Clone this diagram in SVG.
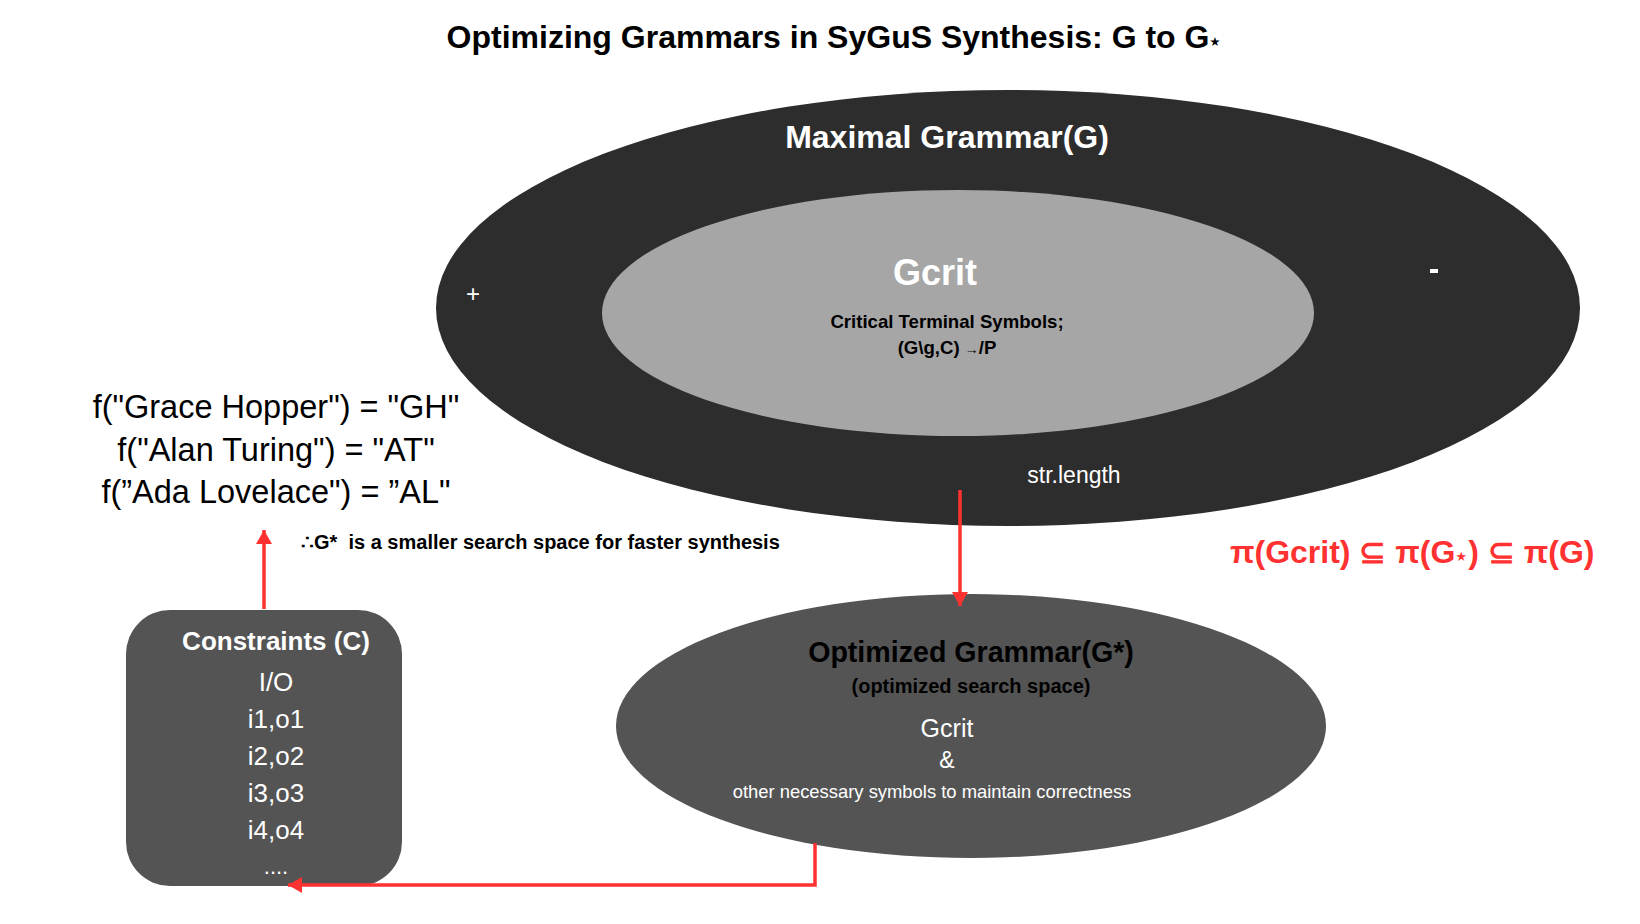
<svg xmlns="http://www.w3.org/2000/svg" width="1640" height="924" viewBox="0 0 1640 924">
<style>
.t{font-family:"Liberation Sans",Arial,sans-serif}
.b{font-weight:bold}
.w{fill:#ffffff}
.k{fill:#000000}
.c{text-anchor:middle}
.red{fill:#ff3131}
.conn{stroke:#ff3131;stroke-width:3.5;fill:none}
</style>
<defs>
<marker id="ah" markerUnits="userSpaceOnUse" markerWidth="18" markerHeight="16" refX="14" refY="8" orient="auto">
<path d="M0,0 L14,8 L0,16 Z" fill="#ff3131"/>
</marker>
</defs>
<rect width="1640" height="924" fill="#ffffff"/>
<text class="t b k c" x="834" y="48" font-size="32">Optimizing Grammars in SyGuS Synthesis: G to G<tspan font-size="19">⋆</tspan></text>

<g id="maximal">
<ellipse cx="1008" cy="308" rx="572" ry="218" fill="#2d2d2d"/>
<text class="t b w c" x="947" y="148" font-size="32">Maximal Grammar(G)</text>
<text class="t w c" x="473" y="302" font-size="24">+</text>
<rect x="1430" y="269" width="8" height="4" fill="#ffffff"/>
<text class="t w c" x="1074" y="483" font-size="23">str.length</text>
</g>

<g id="gcrit">
<ellipse cx="958" cy="313" rx="356" ry="123" fill="#a6a6a6"/>
<text class="t b w c" x="935" y="285" font-size="36">Gcrit</text>
<text class="t b k c" x="947" y="328" font-size="18.6">Critical Terminal Symbols;</text>
<text class="t b k c" x="947" y="354" font-size="18.6">(G\g,C) <tspan font-size="14">→</tspan>/P</text>
</g>

<g id="optimized">
<ellipse cx="971" cy="726" rx="355" ry="132" fill="#545454"/>
<text class="t b k c" x="971" y="662" font-size="28.6">Optimized Grammar(G*)</text>
<text class="t b k c" x="971" y="693" font-size="20">(optimized search space)</text>
<text class="t w c" x="947" y="737" font-size="25">Gcrit</text>
<text class="t w c" x="947" y="768" font-size="23">&amp;</text>
<text class="t w c" x="932" y="798" font-size="18.4">other necessary symbols to maintain correctness</text>
</g>

<g id="constraints">
<rect x="126" y="610" width="276" height="276" rx="44" ry="44" fill="#545454"/>
<text class="t b w c" x="276" y="650" font-size="26">Constraints (C)</text>
<text class="t w c" x="276" y="691" font-size="26">I/O</text>
<text class="t w c" x="276" y="728" font-size="26">i1,o1</text>
<text class="t w c" x="276" y="765" font-size="26">i2,o2</text>
<text class="t w c" x="276" y="802" font-size="26">i3,o3</text>
<text class="t w c" x="276" y="839" font-size="26">i4,o4</text>
<text class="t w c" x="276" y="874" font-size="22">....</text>
</g>

<g id="examples">
<text class="t k c" x="276" y="418" font-size="32.5">f("Grace Hopper") = "GH"</text>
<text class="t k c" x="276" y="461" font-size="32.5">f("Alan Turing") = "AT"</text>
<text class="t k c" x="276" y="503" font-size="32.5">f(”Ada Lovelace") = ”AL"</text>
</g>

<g id="conclusion">
<text class="t b k" x="301" y="549" font-size="20" xml:space="preserve">∴G*  is a smaller search space for faster synthesis</text>
</g>

<g id="relation">
<text class="t b red" x="1230" y="563" font-size="32">π(Gcrit) ⊆ π(G<tspan font-size="20">⋆</tspan>) ⊆ π(G)</text>
</g>

<g id="connectors">
<path class="conn" d="M960,490 L960,606" marker-end="url(#ah)"/>
<path class="conn" d="M264,609 L264,530" marker-end="url(#ah)"/>
<path class="conn" d="M815,843 L815,885 L288,885" marker-end="url(#ah)"/>
</g>
</svg>
